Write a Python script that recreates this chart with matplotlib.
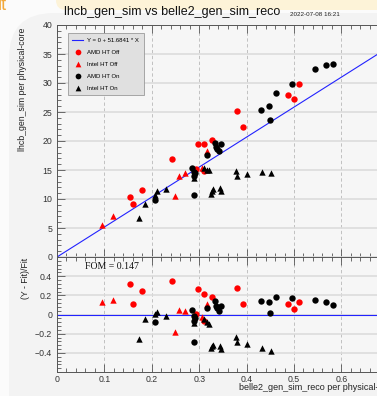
import numpy as np
import matplotlib.pyplot as plt
from matplotlib.patches import FancyBboxPatch
from matplotlib.ticker import MultipleLocator

slope = 51.6841
fom = 0.147

# AMD HT Off (red circles)
amd_off_x = [0.153, 0.160, 0.180, 0.242, 0.293, 0.298, 0.310, 0.311, 0.328,
             0.379, 0.392, 0.488, 0.500, 0.511]
amd_off_y = [10.4, 9.15, 11.6, 16.85, 15.25, 19.5, 19.5, 14.9, 20.1,
             25.1, 22.4, 27.9, 27.2, 29.9]

# Intel HT Off (red triangles)
intel_off_x = [0.094, 0.119, 0.250, 0.257, 0.269, 0.305, 0.317]
intel_off_y = [5.5, 7.05, 10.5, 13.95, 14.4, 15.4, 18.2]

# AMD HT On (black circles)
amd_on_x = [0.206, 0.284, 0.288, 0.291, 0.290, 0.289, 0.317, 0.333, 0.335,
            0.338, 0.342, 0.347, 0.430, 0.447, 0.449, 0.463, 0.495, 0.544,
            0.568, 0.583]
amd_on_y = [9.85, 15.3, 14.6, 14.5, 10.7, 14.0, 17.55, 19.6, 18.9,
            18.6, 18.3, 19.5, 25.3, 26.1, 23.6, 28.2, 29.9, 32.4,
            33.1, 33.2]

# Intel HT On (black triangles)
intel_on_x = [0.172, 0.186, 0.206, 0.212, 0.231, 0.288, 0.311, 0.316, 0.321,
              0.325, 0.328, 0.330, 0.344, 0.347, 0.377, 0.380, 0.400, 0.432,
              0.451]
intel_on_y = [6.65, 9.15, 10.65, 11.3, 11.7, 13.6, 15.4, 15.0, 15.0,
              10.9, 11.3, 11.65, 11.95, 11.45, 14.9, 13.95, 14.25, 14.6,
              14.4]

series = [
    ("AMD HT Off", amd_off_x, amd_off_y, "o", "#ff0000"),
    ("Intel HT Off", intel_off_x, intel_off_y, "^", "#ff0000"),
    ("AMD HT On", amd_on_x, amd_on_y, "o", "#000000"),
    ("Intel HT On", intel_on_x, intel_on_y, "^", "#000000"),
]

plt.rcParams['font.family'] = ['Liberation Sans', 'DejaVu Sans']

W, H = 377, 396
fig = plt.figure(figsize=(W / 100, H / 100), dpi=100)
fig.patch.set_facecolor('#fbfbfb')

# page background pieces
fig.patches.append(FancyBboxPatch((9, -60), 420, 443, boxstyle="round,pad=0,rounding_size=45",
                                  transform=None, fc='#f3f3f3', ec='none', zorder=-10))
fig.patches.append(FancyBboxPatch((56, H - 10), 360, 40, boxstyle="round,pad=0,rounding_size=10",
                                  transform=None, fc='#fdf3d8', ec='none', zorder=-9))
fig.text(-2 / W, 1 + 3 / H, "lt", color='#f2a93b', fontsize=13, ha='left', va='top')

xmax = 0.7
ax1 = fig.add_axes([57 / W, 1 - 257 / H, xmax * 474 / W, 232 / H])
ax2 = fig.add_axes([57 / W, 1 - 372 / H, xmax * 474 / W, 115 / H])

xs = np.array([0, xmax])
handles = []
fit_line, = ax1.plot(xs, slope * xs, color='#2222ff', lw=0.8,
                     label="Y = 0 + 51.6841 * X")
handles.append(fit_line)
for name, x, y, m, c in series:
    x = np.array(x)
    y = np.array(y)
    h = ax1.scatter(x, y, marker=m, s=21, color=c, label=name, zorder=3, lw=0)
    handles.append(h)
    res = (y - slope * x) / (slope * x)
    ax2.scatter(x, res, marker=m, s=21, color=c, zorder=3, lw=0)
ax2.axhline(0, color='#2222ff', lw=0.8)

ax1.set_xlim(0, xmax)
ax1.set_ylim(0, 40)
ax2.set_xlim(0, xmax)
ax2.set_ylim(-0.6, 0.6)

for ax in (ax1, ax2):
    ax.set_facecolor('#f6f6f6')
    ax.xaxis.set_major_locator(MultipleLocator(0.1))
    ax.xaxis.set_minor_locator(MultipleLocator(0.02))
    ax.grid(axis='x', which='major', ls=(0, (4, 3)), color='#b8b8b8', lw=0.6)
    ax.grid(axis='y', which='major', ls='-', color='#dcdcdc', lw=1.2)
    ax.set_axisbelow(True)
    ax.tick_params(which='both', direction='in', top=True, right=False,
                   color='#555555', labelsize=6.3, labelcolor='#333333')
    ax.tick_params(which='major', length=5.5, width=0.6)
    ax.tick_params(which='minor', length=2.8, width=0.6)
    for s in ax.spines.values():
        s.set_color('#555555')
        s.set_linewidth(0.7)

ax1.yaxis.set_major_locator(MultipleLocator(5))
ax1.yaxis.set_minor_locator(MultipleLocator(1))
ax1.tick_params(labelbottom=False)
ax2.yaxis.set_major_locator(MultipleLocator(0.2))
ax2.yaxis.set_minor_locator(MultipleLocator(0.04))
ax2.set_yticks([-0.4, -0.2, 0, 0.2, 0.4])
ax2.set_yticklabels(['\u22120.4', '\u22120.2', '0', '0.2', '0.4'])
ax2.set_xticks([0, 0.1, 0.2, 0.3, 0.4, 0.5, 0.6])
ax2.set_xticklabels(['0', '0.1', '0.2', '0.3', '0.4', '0.5', '0.6'])
ax2.tick_params(axis='x', pad=2.5)

leg = ax1.legend(handles=handles, loc='upper left', bbox_to_anchor=(68 / W, 1 - 33 / H),
                 bbox_transform=fig.transFigure, borderaxespad=0, fontsize=4.3,
                 handlelength=1.8, handletextpad=0.7, labelspacing=1.15,
                 borderpad=0.75, fancybox=False, framealpha=1, markerscale=0.9)
leg.get_frame().set_facecolor('#e0e0e0')
leg.get_frame().set_edgecolor('#9a9a9a')
leg.get_frame().set_linewidth(0.6)

fig.text(172 / W, 1 - 12 / H, "lhcb_gen_sim vs belle2_gen_sim_reco",
         fontsize=9, ha='center', va='center', color='#111111')
fig.text(290 / W, 1 - 14 / H, "2022-07-08 16:21", fontsize=4.5,
         ha='left', va='center', color='#222222')
fig.text(23 / W, 1 - 28 / H, "lhcb_gen_sim per physical-core", rotation=90,
         fontsize=6.3, ha='center', va='top', color='#222222')
fig.text(25 / W, 1 - 258 / H, "(Y - Fit)/Fit", rotation=90,
         fontsize=6.3, ha='center', va='top', color='#222222')
fig.text(239 / W, 1 - 388 / H, "belle2_gen_sim_reco per physical-core",
         fontsize=6.5, ha='left', va='center', color='#222222')
ax2.text(0.06, 0.505, "FOM = %.3f" % fom, family='Liberation Serif',
         fontsize=7, ha='left', va='center', color='#111111')

fig.savefig('out.png', dpi=100, facecolor=fig.get_facecolor())
